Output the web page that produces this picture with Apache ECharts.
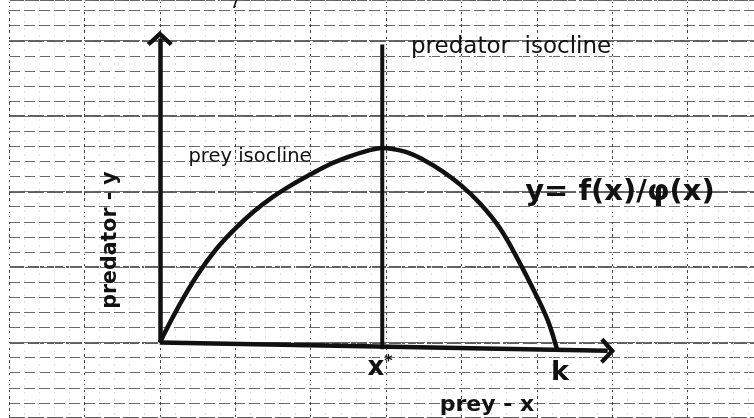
<!DOCTYPE html>
<html>
<head>
<meta charset="utf-8">
<script src="https://cdn.jsdelivr.net/npm/echarts@6/dist/echarts.min.js"></script>
<style>
  html, body { margin: 0; padding: 0; background: #fff; }
  #chart { width: 754px; height: 418px; }
</style>
</head>
<body>
<div id="chart"></div>
<script>
// prey isocline y = f(x)/phi(x) (units = big graph squares)
var preyX = [0, 0.25, 0.5, 0.75, 1.0, 1.25, 1.5, 1.75, 2.0, 2.25, 2.5, 2.75, 2.95, 3.25, 3.5, 3.75, 4.0, 4.25, 4.5, 4.75, 5.0, 5.15, 5.27];
var preyY = [0, 0.48, 0.90, 1.24, 1.51, 1.74, 1.93, 2.09, 2.23, 2.36, 2.46, 2.54, 2.58, 2.53, 2.42, 2.27, 2.08, 1.84, 1.53, 1.10, 0.61, 0.28, -0.10];

// predator isocline x = x*
var predatorIsoX = [2.95, 2.95];
var predatorIsoY = [-0.09, 3.95];

// hand drawn axes (origin -> arrow tip)
var axisYX = [0, 0];
var axisYY = [0, 4.03];
var axisXX = [0, 5.94];
var axisXY = [0, -0.11];

function zip(xs, ys) {
    var out = [];
    for (var i = 0; i < xs.length; i++) {
        out.push([xs[i], ys[i]]);
    }
    return out;
}

var chevron = 'path://M0,0 L13,12 L10,15 L0,6 L-10,15 L-13,12 Z';
var ink = '#111';
var hand = '"DejaVu Sans", "Noto Sans", sans-serif';

var myChart = echarts.init(document.getElementById('chart'));

var paperAxis = function (min, max, interval, lineStyle) {
    return {
        type: 'value', min: min, max: max, interval: interval,
        axisLine: {show: false}, axisTick: {show: false}, axisLabel: {show: false},
        splitLine: {show: true, lineStyle: lineStyle}
    };
};

var textStyle = function (text, font, align) {
    return {text: text, font: font, fill: ink,
        textAlign: align, textVerticalAlign: 'middle', align: align, verticalAlign: 'middle'};
};

var option = {
    backgroundColor: '#fff',
    animation: false,
    grid: {left: 9, right: 0, top: 0, bottom: 0, containLabel: false},
    xAxis: [
        paperAxis(-2, 7.88, 1, {color: '#444', width: 1, type: [3, 3]}),
        paperAxis(-2, 7.88, 0.2, {color: '#e2e2e2', width: 1, type: [2, 5]})
    ],
    yAxis: [
        paperAxis(-1, 4.54, 1, {color: '#2a2a2a', width: 1.6, type: [16, 3]}),
        paperAxis(-1, 4.54, 0.2, {color: '#6a6a6a', width: 1, type: [11, 4]})
    ],
    series: [
        {
            name: 'prey isocline',
            type: 'line',
            smooth: 0.4,
            showSymbol: false,
            lineStyle: {color: ink, width: 4.5},
            data: zip(preyX, preyY),
            z: 5
        },
        {
            name: 'predator isocline',
            type: 'line',
            showSymbol: false,
            lineStyle: {color: ink, width: 4},
            data: zip(predatorIsoX, predatorIsoY),
            z: 5
        },
        {
            name: 'axes',
            type: 'lines',
            coordinateSystem: 'cartesian2d',
            symbol: ['none', chevron],
            symbolSize: [0, [26, 15]],
            lineStyle: {color: ink, width: 4.5, opacity: 1},
            data: [
                {coords: zip(axisYX, axisYY)},
                {coords: zip(axisXX, axisXY)}
            ],
            z: 6
        }
    ],
    graphic: [
        {type: 'text', x: 411, y: 47, z: 10,
            style: textStyle('predator  isocline', '23px ' + hand, 'left')},
        {type: 'text', x: 250, y: 157, z: 10,
            style: textStyle('prey isocline', '19.5px ' + hand, 'center')},
        {type: 'text', x: 620, y: 192, z: 10,
            style: textStyle('y= f(x)/\u03c6(x)', 'bold 29px ' + hand, 'center')},
        {type: 'text', x: 111, y: 240, rotation: Math.PI / 2, z: 10,
            style: textStyle('predator - y', 'bold 20.5px ' + hand, 'center')},
        {type: 'text', x: 380, y: 368, z: 10,
            style: {text: '{a|x}{b|*}', fill: ink,
                rich: {a: {font: 'bold 26px ' + hand, fill: ink, color: ink}, b: {font: 'bold 16px ' + hand, fill: ink, color: ink, verticalAlign: 'top', padding: [0, 0, 12, 0]}},
                textAlign: 'center', textVerticalAlign: 'middle', align: 'center', verticalAlign: 'middle'}},
        {type: 'text', x: 560, y: 373, z: 10,
            style: textStyle('k', 'bold 27px ' + hand, 'center')},
        {type: 'text', x: 487, y: 405, z: 10,
            style: textStyle('prey - x', 'bold 22px ' + hand, 'center')},
        {type: 'text', x: 236, y: 3, z: 10,
            style: textStyle('/', 'bold 16px ' + hand, 'center')}
    ]
};

myChart.setOption(option);
</script>
</body>
</html>
